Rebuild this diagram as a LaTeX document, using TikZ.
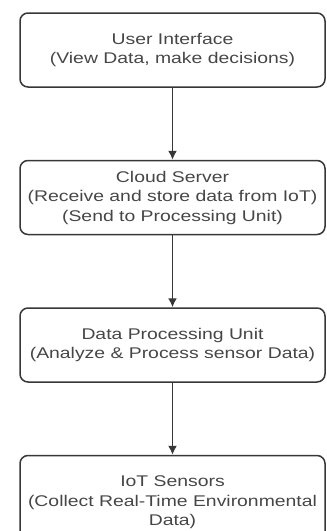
\documentclass[tikz,border=0pt]{standalone}
\usepackage{fontspec}
\setmainfont[FakeStretch=1.25]{Liberation Sans}
\usetikzlibrary{positioning,arrows.meta}

\definecolor{boxline}{RGB}{55,55,55}
\definecolor{boxtext}{RGB}{70,70,70}

\begin{document}
\begin{tikzpicture}[x=1pt,y=1pt,
    layerbox/.style={draw=boxline, line width=1.5pt, rounded corners=8pt,
        minimum width=305pt, minimum height=74pt, align=center,
        text=boxtext, font=\fontsize{15.5}{19.5}\selectfont},
    flow/.style={->, >={Latex[length=9pt,width=9pt]}, draw=boxline, line width=1.5pt},
    node distance=72pt]

      % Page size
      \useasboundingbox (0,0) rectangle (327,-531);
      \clip (0,0) rectangle (327,-531);

      % Boxes
      \node[layerbox] (ui) at (172.5,-50) {User Interface\\(View Data, make decisions)};
      \node[layerbox, below=of ui] (cloud) {Cloud Server\\(Receive and store data from IoT)\\(Send to Processing Unit)};
      \node[layerbox, below=of cloud] (proc) {Data Processing Unit\\(Analyze \& Process sensor Data)};
      \node[layerbox, below=of proc, minimum height=94pt] (sensors) {IoT Sensors\\(Collect Real-Time Environmental\\Data)};

      % Arrows
      \draw[flow] (ui) -- (cloud);
      \draw[flow] (cloud) -- (proc);
      \draw[flow] (proc) -- (sensors);

\end{tikzpicture}
\end{document}
